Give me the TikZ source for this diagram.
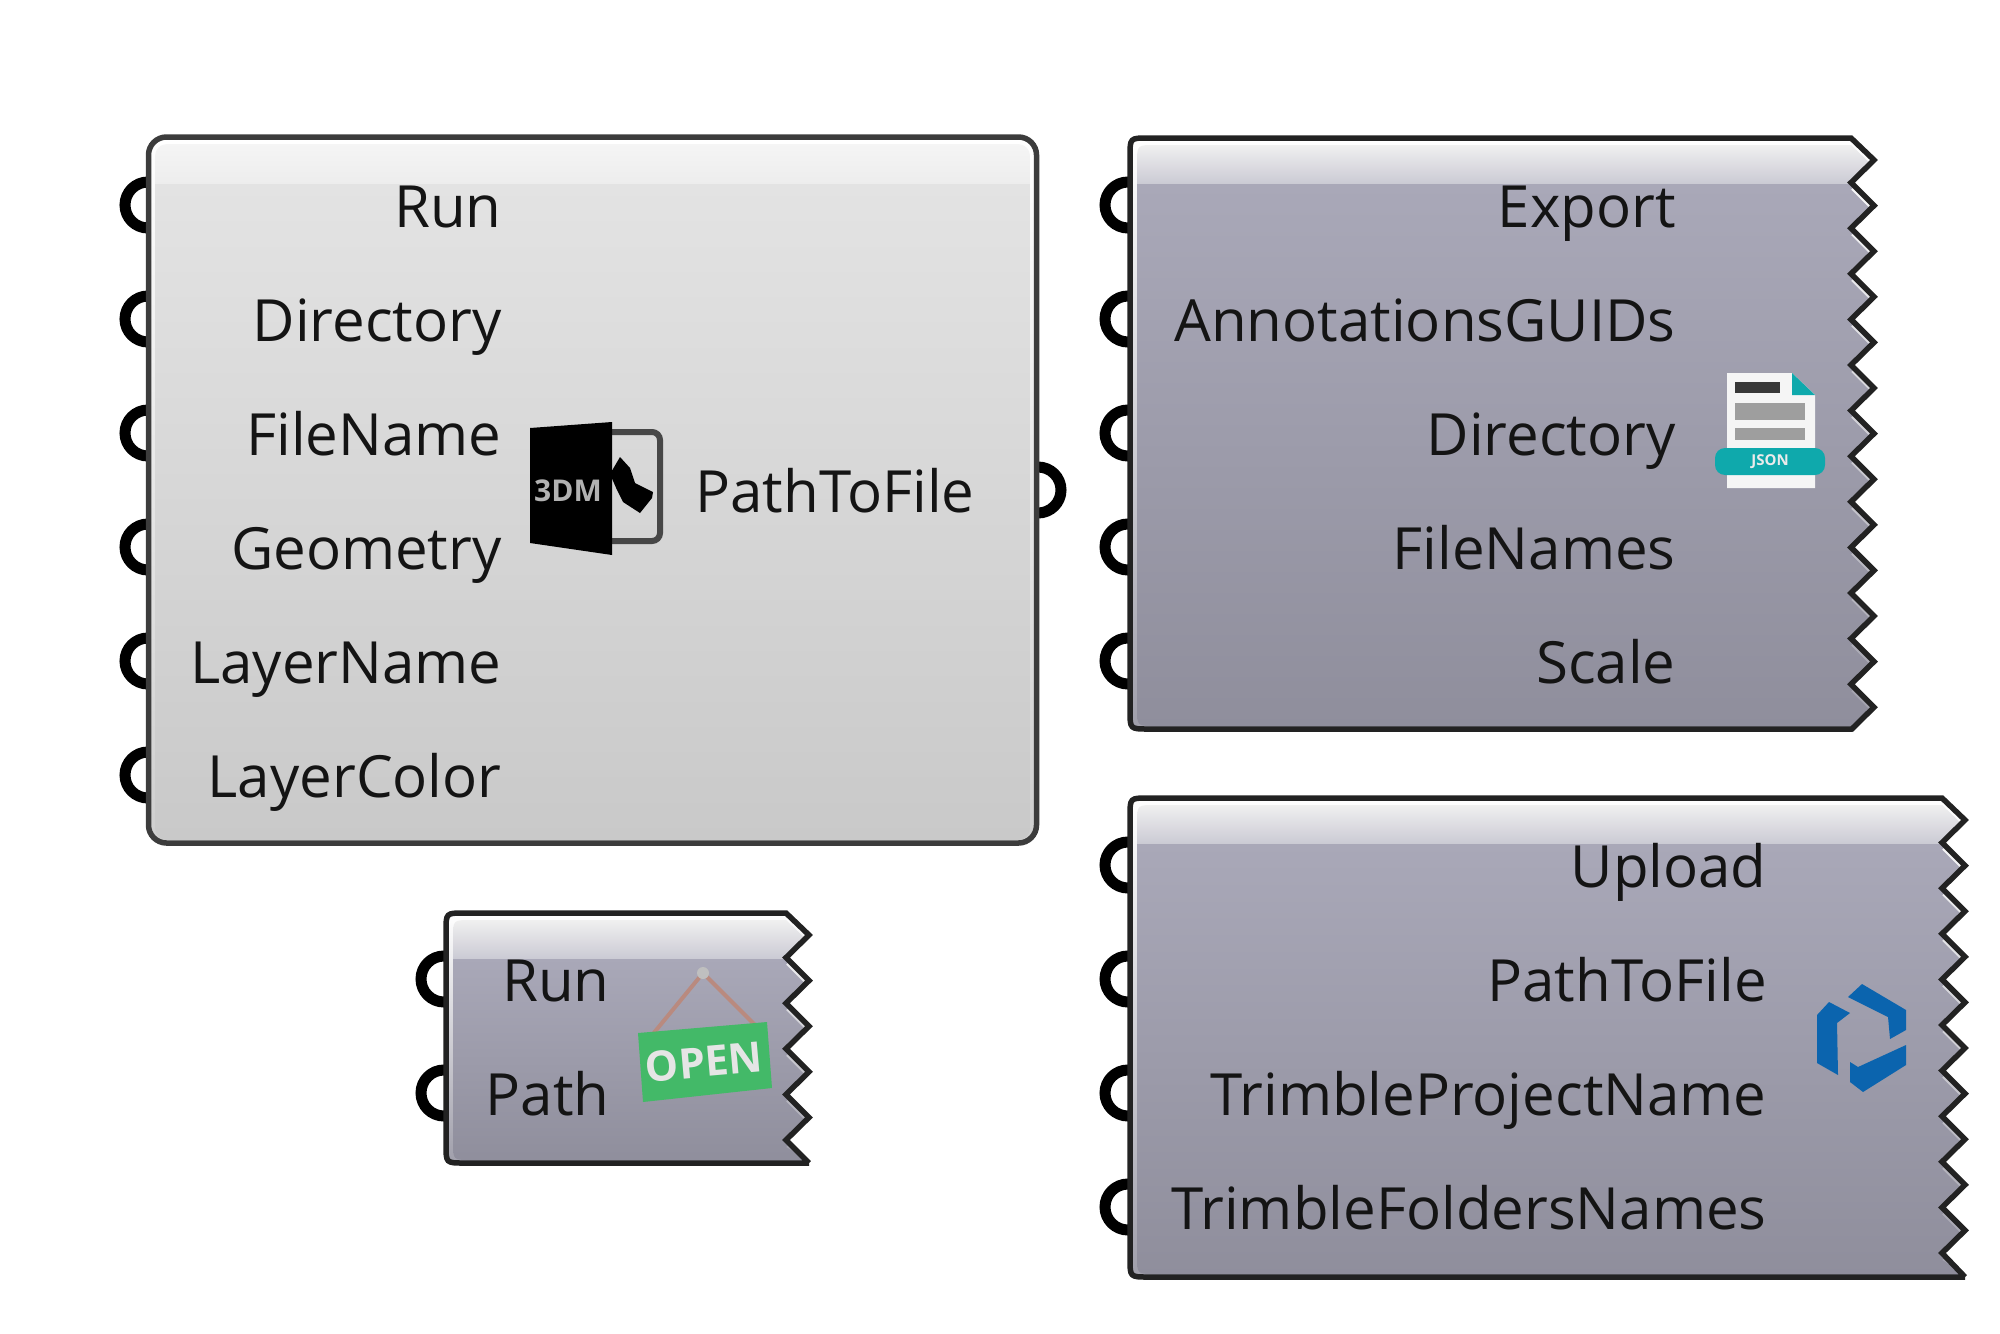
\documentclass[tikz,border=0pt]{standalone}
\usepackage{fontspec}
\setmainfont{Open Sans}
\usetikzlibrary{positioning}
\definecolor{wireDark}{HTML}{222222}
\definecolor{wireGrey}{HTML}{3C3C3C}
\definecolor{paperTop}{HTML}{E3E3E3}
\definecolor{paperBot}{HTML}{C9C9C9}
\definecolor{slateTop}{HTML}{A9A8B8}
\definecolor{slateBot}{HTML}{8F8E9C}
\definecolor{iconTeal}{HTML}{0FA9AC}
\definecolor{iconBlue}{HTML}{0B64AE}
\definecolor{iconGreen}{HTML}{43B968}
\definecolor{iconCord}{HTML}{B98A7F}
% outline of a component with a toothed right side
% #1 left, #2 top, #3 tip x, #4 bottom, #5 last tooth, #6 x where the bottom line ends
\newcommand{\toothed}[6]{(#6,#4) -- (#1+18,#4) .. controls (#1,#4) .. (#1,#4-18)
  -- (#1,#2+18) .. controls (#1,#2) .. (#1+18,#2) -- (#3-23,#2)
  \foreach \k in {0,...,#5} { -- (#3,#2+22+\k*45.6) -- (#3-23,#2+44.6+\k*45.6) } -- (#6,#4)}
\begin{document}
\begin{tikzpicture}[x=0.5pt,y=-0.5pt,
  port/.style={circle,draw=black,line width=5.5pt,minimum size=23pt,inner sep=0pt},
  portname/.style={anchor=base east,inner sep=0pt,font=\fontsize{29.1}{34}\selectfont,text=black!92},
  rimslate/.style={top color=white,bottom color=slateBot!85!white},
  bodyslate/.style={top color=slateTop,bottom color=slateBot},
  glossslate/.style={top color=black!6,bottom color=slateTop!60!white},
  wire/.style={draw=wireDark,line width=2.75pt,line join=miter},
  icontext/.style={inner sep=0pt,font=\bfseries\fontsize{#1}{#1}\selectfont}
]
\useasboundingbox (0,0) rectangle (2000,1333);
% ports go under the bodies
\foreach \i in {0,...,5} \node[port] (objIn\i) at (148,205+114*\i) {};
\node[port] (objOut) at (1038,490) {};
\foreach \i in {0,...,4} \node[port] (jsonIn\i) at (1128,205+114*\i) {};
\foreach \i in {0,...,1} \node[port] (openIn\i) at (444,979+114*\i) {};
\foreach \i in {0,...,3} \node[port] (cloudIn\i) at (1128,865+114*\i) {};
% light component
\node[draw=wireGrey,line width=2.75pt,rounded corners=9pt,top color=white,bottom color=paperBot!90!white,
  minimum width=444pt,minimum height=353pt,inner sep=0pt] (objBox) at (592.5,490) {};
\begin{scope}
  \clip[rounded corners=6pt] (155,144) rectangle (1030,840);
  \shade[top color=paperTop,bottom color=paperBot] (155,183) rectangle (1030,840);
  \shade[top color=black!4,bottom color=black!7] (155,144) rectangle (1030,183);
\end{scope}
% slate components
\foreach \l/\t/\r/\b/\n/\e in {1130/138/1874/729/12/1852,446/913/809/1163/4/809,1130/798/1965/1277/9/1965}{
  \shade[rimslate] \toothed{\l}{\t}{\r}{\b}{\n}{\e};
  \begin{scope}
    \clip \toothed{\l}{\t}{\r}{\b}{\n}{\e};
    \clip \toothed{\l+7}{\t+7}{\r}{\b-3}{\n}{\e};
    \shade[bodyslate] (\l,\t+45) rectangle (\r,\b);
    \shade[glossslate] (\l,\t+7) rectangle (\r,\t+45);
  \end{scope}
  \draw[wire] \toothed{\l}{\t}{\r}{\b}{\n}{\e};
}
% labels
\foreach \lbl [count=\i from 0] in {Run,Directory,FileName,Geometry,LayerName,LayerColor}
  \node[portname] (objName\i) at (502,227+114*\i) {\lbl};
\node[portname,anchor=base west] (objOutName) at (695,512) {PathToFile};
\foreach \lbl [count=\i from 0] in {Export,AnnotationsGUIDs,Directory,FileNames,Scale}
  \node[portname] (jsonName\i) at (1676,227+114*\i) {\lbl};
\foreach \lbl [count=\i from 0] in {Run,Path}
  \node[portname] (openName\i) at (610,1001+114*\i) {\lbl};
\foreach \lbl [count=\i from 0] in {Upload,PathToFile,TrimbleProjectName,TrimbleFoldersNames}
  \node[portname] (cloudName\i) at (1767,887+114*\i) {\lbl};
% 3dm icon
\draw[draw=black!72,line width=3pt,rounded corners=4pt] (612,432) -- (660,432) -- (660,541) -- (612,541);
\fill[black] (530,428) -- (612,422) -- (612,555) -- (530,543) -- cycle;
\fill[black] (610,474) -- (620,457) -- (630,468) -- (635,483) -- (653,492) -- (652,498) -- (640,513) -- (623,502) -- (617,490) -- cycle;
\node[icontext=15,text=black!30] (objIconText) at (568,491) {3DM};
% json icon
\fill[black!4] (1727,373) -- (1792,373) -- (1815,395) -- (1815,488) -- (1727,488) -- cycle;
\fill[iconTeal] (1792,373) -- (1815,395) -- (1792,395) -- cycle;
\fill[black!78] (1735,382) rectangle (1780,393);
\fill[black!38] (1735,403) rectangle (1805,420);
\fill[black!38] (1735,428) rectangle (1805,440);
\fill[iconTeal,rounded corners=5pt] (1715,448) rectangle (1825,475);
\node[icontext=7.5,text=black!8] (jsonIconText) at (1770,461.5) {JSON};
% open sign icon
\draw[iconCord,line width=2pt] (648,1040) -- (703,973) -- (757,1027);
\fill[black!25] (703,973) circle (3pt);
\fill[iconGreen] (638,1033) -- (767,1022) -- (772,1088) -- (643,1102) -- cycle;
\node[icontext=21,text=black!10,rotate=5] (openIconText) at (704,1062) {OPEN};
% trimble icon
\fill[iconBlue] (1848,997) -- (1862,984) -- (1906,1010) -- (1906,1030) -- (1890,1039) -- (1888,1017) -- cycle;
\fill[iconBlue] (1817,1015) -- (1829,1002) -- (1850,1013) -- (1837,1023) -- (1838,1075) -- (1817,1063) -- cycle;
\fill[iconBlue] (1850,1062) -- (1858,1067) -- (1906,1045) -- (1906,1065) -- (1863,1092) -- (1850,1082) -- cycle;
\end{tikzpicture}
\end{document}
